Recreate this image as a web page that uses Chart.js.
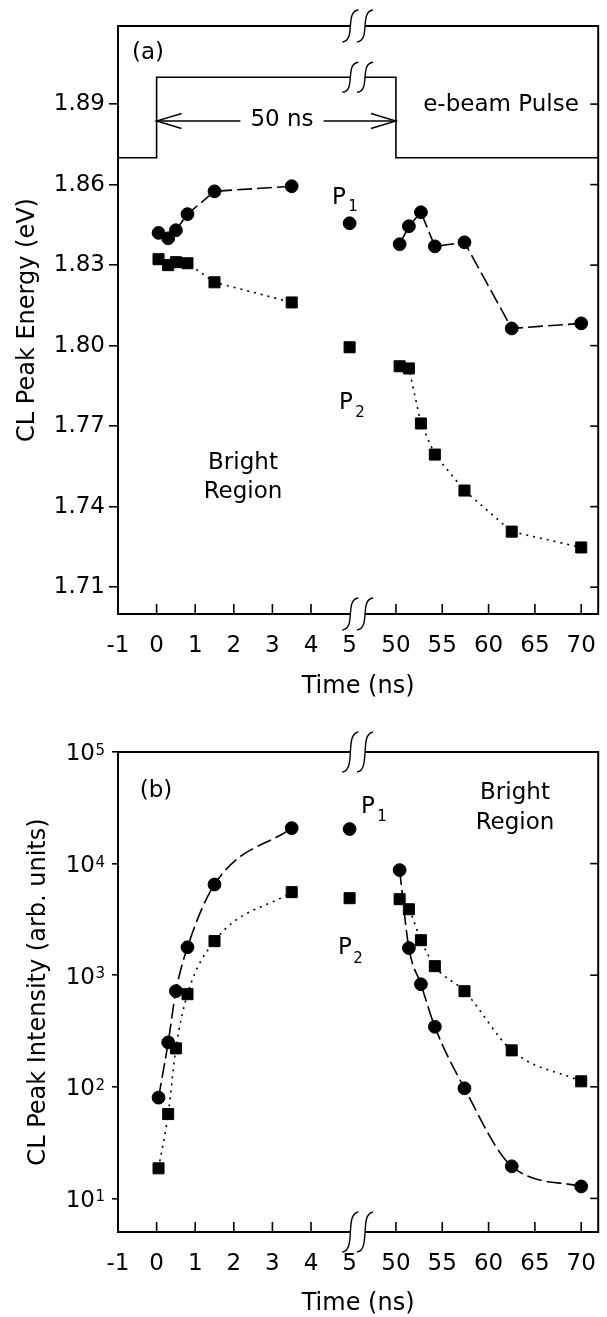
<!DOCTYPE html>
<html>
<head>
<meta charset="utf-8">
<script src="https://cdn.jsdelivr.net/npm/chart.js@4.4.1/dist/chart.umd.min.js"></script>
<style>
  html, body { margin: 0; padding: 0; background: #fff; }
  .panel { position: absolute; left: 0; width: 607px; }
  #panelA { top: 0; height: 700px; }
  #panelB { top: 700px; height: 617px; }
</style>
</head>
<body>
<div class="panel" id="panelA"><canvas id="chartA"></canvas></div>
<div class="panel" id="panelB"><canvas id="chartB"></canvas></div>
<script>
// time points (ns) shared by both panels
const times = [0.05, 0.3, 0.5, 0.8, 1.5, 3.5, 5, 50.4, 51.4, 52.7, 54.2, 57.4, 62.5, 70];

// (a) CL peak energy (eV)
const energyP1 = [1.842, 1.840, 1.843, 1.849, 1.8575, 1.8594, 1.8456, 1.8378, 1.8445, 1.8497, 1.837, 1.8385, 1.8064, 1.8083];
const energyP2 = [1.8322, 1.830, 1.8311, 1.8307, 1.8236, 1.8161, 1.7994, 1.7923, 1.7915, 1.771, 1.7594, 1.746, 1.7307, 1.7248];

// (b) CL peak intensity (arb. units)
const intensityP1 = [80, 250, 720, 1780, 6500, 20800, 20400, 8750, 1750, 830, 345, 97, 19.4, 12.8];
const intensityP2 = [18.6, 57, 221, 676, 2020, 5550, 4900, 4800, 3900, 2060, 1205, 719, 212, 112];

// e-beam pulse trace in panel (a)
const pulseTimes = [-1, 0, 0, 50, 50, 72];
const pulseLevels = [1.870, 1.870, 1.900, 1.900, 1.870, 1.870];

// tick values
const timeTicks = [-1, 0, 1, 2, 3, 4, 5, 50, 55, 60, 65, 70];
const energyTicks = [1.71, 1.74, 1.77, 1.80, 1.83, 1.86, 1.89];
const intensityTicks = [10, 100, 1000, 10000, 100000];

const FONT = 'DejaVu Sans';

// broken time axis: 0..5 ns linear, then 50..70 ns compressed
const toAxis = t => (t <= 5 ? t : 5 + 1.2 + (t - 50) * 0.24);
const BREAK_AT = [5.02, 5.40];

const lineData = vals => times.map((t, i) => ({ x: toAxis(t), y: t === 5 ? null : vals[i] }));
const loneData = vals => times.map((t, i) => ({ x: toAxis(t), y: t === 5 ? vals[i] : null }));

const series = (vals, style, radius, dash, curved) => {
  const pts = {
    pointStyle: style, pointRadius: radius, pointBorderWidth: 1,
    pointBackgroundColor: '#000', pointBorderColor: '#000'
  };
  return [
    { data: lineData(vals), showLine: true, borderColor: '#000', borderWidth: 1.6, borderDash: dash,
      spanGaps: false, tension: curved ? 0.4 : 0, cubicInterpolationMode: curved ? 'monotone' : 'default', ...pts },
    { data: loneData(vals), showLine: false, ...pts }
  ];
};

const xAxis = (height, pad) => ({
  type: 'linear', min: -1, max: 11.44,
  afterBuildTicks: s => { s.ticks = timeTicks.map(t => ({ value: toAxis(t) })); },
  afterFit: s => { s.height = height; },
  ticks: { autoSkip: false, maxRotation: 0, padding: pad, color: '#000', font: { family: FONT, size: 23 },
           callback: (v, i) => timeTicks[i] },
  grid: { display: false },
  border: { display: false },
  title: { display: true, text: 'Time (ns)', color: '#000', font: { family: FONT, size: 24, lineHeight: 1 },
           padding: { top: 0, bottom: 1 } }
});

// small drawing helpers
const seg = (ctx, x1, y1, x2, y2) => { ctx.beginPath(); ctx.moveTo(x1, y1); ctx.lineTo(x2, y2); ctx.stroke(); };
const label = (ctx, str, cx, cy, size = 23, align = 'center') => {
  ctx.font = `${size}px "${FONT}"`;
  ctx.textAlign = align;
  ctx.textBaseline = 'middle';
  ctx.fillText(str, cx, cy);
};
const subLabel = (ctx, main, sub, px, py, sx, sy) => {
  label(ctx, main, px, py);
  label(ctx, sub, sx, sy, 15);
};
const axisBreak = (ctx, x1, x2, yy, h) => {
  ctx.fillStyle = '#fff';
  ctx.fillRect(x1, yy - 3, x2 - x1, 6);
  ctx.fillStyle = '#000';
  ctx.lineWidth = 1.4;
  [x1, x2].forEach(cx => {
    ctx.beginPath();
    ctx.moveTo(cx - 8, yy + h);
    ctx.bezierCurveTo(cx + 6, yy + h * 0.9, cx - 6, yy - h * 0.9, cx + 8, yy - h);
    ctx.stroke();
  });
};

// frame, inner ticks, axis breaks and the annotations
const decor = (rightTicks, breakH, extra) => ({
  id: 'decor',
  afterDraw(chart) {
    const { ctx, chartArea: a, scales: { x, y } } = chart;
    ctx.save();
    ctx.strokeStyle = '#000';
    ctx.fillStyle = '#000';
    ctx.lineWidth = 2;
    ctx.strokeRect(a.left, a.top, a.right - a.left, a.bottom - a.top);

    ctx.lineWidth = 1.6;
    timeTicks.forEach(t => {
      if (t === -1 || t === 5) return;
      const px = x.getPixelForValue(toAxis(t));
      seg(ctx, px, a.bottom, px, a.bottom - 10);
    });
    rightTicks.forEach(v => {
      const py = y.getPixelForValue(v);
      seg(ctx, a.right, py, a.right - 8, py);
    });

    const b1 = x.getPixelForValue(BREAK_AT[0]), b2 = x.getPixelForValue(BREAK_AT[1]);
    axisBreak(ctx, b1, b2, a.top, breakH);
    axisBreak(ctx, b1, b2, a.bottom, breakH);

    extra(ctx, chart, b1, b2);
    ctx.restore();
  }
});

// ---------- panel (a) ----------
new Chart(document.getElementById('chartA'), {
  type: 'scatter',
  data: {
    datasets: [
      ...series(energyP1, 'circle', 6.4, [15, 5], false),
      ...series(energyP2, 'rect', 7.8, [2, 5], false),
      { data: pulseTimes.map((t, i) => ({ x: toAxis(t), y: pulseLevels[i] })), showLine: true,
        borderColor: '#000', borderWidth: 1.6, pointRadius: 0 }
    ]
  },
  options: {
    responsive: true, maintainAspectRatio: false, animation: false, events: [],
    layout: { padding: { left: 0, right: 7, top: 26, bottom: 0 } },
    plugins: { legend: { display: false }, tooltip: { enabled: false } },
    scales: {
      x: xAxis(86, 10),
      y: {
        type: 'linear', min: 1.700, max: 1.9191,
        afterBuildTicks: s => { s.ticks = energyTicks.map(v => ({ value: v })); },
        afterFit: s => { s.width = 118; },
        ticks: { padding: 4, color: '#000', font: { family: FONT, size: 23 }, callback: v => v.toFixed(2) },
        grid: { drawOnChartArea: false, drawTicks: true, tickLength: 9, color: '#000', lineWidth: 1.6 },
        border: { display: false },
        title: { display: true, text: 'CL Peak Energy (eV)', color: '#000', font: { family: FONT, size: 24 },
                 padding: { top: 13, bottom: 0 } }
      }
    }
  },
  plugins: [decor(energyTicks, 16, (ctx, chart, b1, b2) => {
    const { x, y } = chart.scales;
    // break on the top of the pulse
    axisBreak(ctx, b1, b2, y.getPixelForValue(1.900), 15);

    // 50 ns double arrow
    const x0 = x.getPixelForValue(toAxis(0)), x50 = x.getPixelForValue(toAxis(50));
    const ya = y.getPixelForValue(1.8837);
    ctx.font = `23px "${FONT}"`;
    const tw = ctx.measureText('50 ns').width;
    const tc = 282;
    ctx.lineWidth = 1.4;
    seg(ctx, x0, ya, tc - tw / 2 - 10, ya);
    seg(ctx, tc + tw / 2 + 10, ya, x50, ya);
    ctx.beginPath(); ctx.moveTo(x0 + 25, ya - 7.5); ctx.lineTo(x0, ya); ctx.lineTo(x0 + 25, ya + 7.5); ctx.stroke();
    ctx.beginPath(); ctx.moveTo(x50 - 25, ya - 7.5); ctx.lineTo(x50, ya); ctx.lineTo(x50 - 25, ya + 7.5); ctx.stroke();
    label(ctx, '50 ns', tc, 120);

    label(ctx, '(a)', 148, 53);
    label(ctx, 'e-beam Pulse', 501, 105);
    subLabel(ctx, 'P', '1', 339, 198, 353, 207);
    subLabel(ctx, 'P', '2', 346, 403, 360, 413);
    label(ctx, 'Bright', 243, 463);
    label(ctx, 'Region', 243, 492);
  })]
});

// ---------- panel (b) ----------
new Chart(document.getElementById('chartB'), {
  type: 'scatter',
  data: {
    datasets: [
      ...series(intensityP1, 'circle', 6.4, [15, 5], true),
      ...series(intensityP2, 'rect', 7.8, [2, 5], true)
    ]
  },
  options: {
    responsive: true, maintainAspectRatio: false, animation: false, events: [],
    layout: { padding: { left: 0, right: 7, top: 52, bottom: 0 } },
    plugins: { legend: { display: false }, tooltip: { enabled: false } },
    scales: {
      x: xAxis(85, 10),
      y: {
        type: 'logarithmic', min: 5, max: 100000,
        afterBuildTicks: s => { s.ticks = intensityTicks.map(v => ({ value: v })); },
        afterFit: s => { s.width = 118; },
        ticks: { display: false },
        grid: { drawOnChartArea: false, drawTicks: true, tickLength: 6, color: '#000', lineWidth: 1.6 },
        border: { display: false },
        title: { display: true, text: 'CL Peak Intensity (arb. units)', color: '#000', font: { family: FONT, size: 24 },
                 padding: { top: 24, bottom: 0 } }
      }
    }
  },
  plugins: [decor(intensityTicks, 20, (ctx, chart) => {
    const { chartArea: a, scales: { y } } = chart;
    // power-of-ten tick labels
    intensityTicks.forEach(v => {
      const py = y.getPixelForValue(v);
      const exp = String(Math.round(Math.log10(v)));
      ctx.font = `15px "${FONT}"`;
      const we = ctx.measureText(exp).width;
      const right = a.left - 13;
      ctx.textAlign = 'left';
      ctx.textBaseline = 'alphabetic';
      ctx.fillText(exp, right - we, py + 3);
      label(ctx, '10', right - we - 0.5, py + 2.5, 23, 'right');
    });

    label(ctx, '(b)', 156, 91);
    subLabel(ctx, 'P', '1', 368, 107, 382, 117);
    subLabel(ctx, 'P', '2', 345, 248, 358, 259);
    label(ctx, 'Bright', 515, 93);
    label(ctx, 'Region', 515, 123);
  })]
});
</script>
</body>
</html>
